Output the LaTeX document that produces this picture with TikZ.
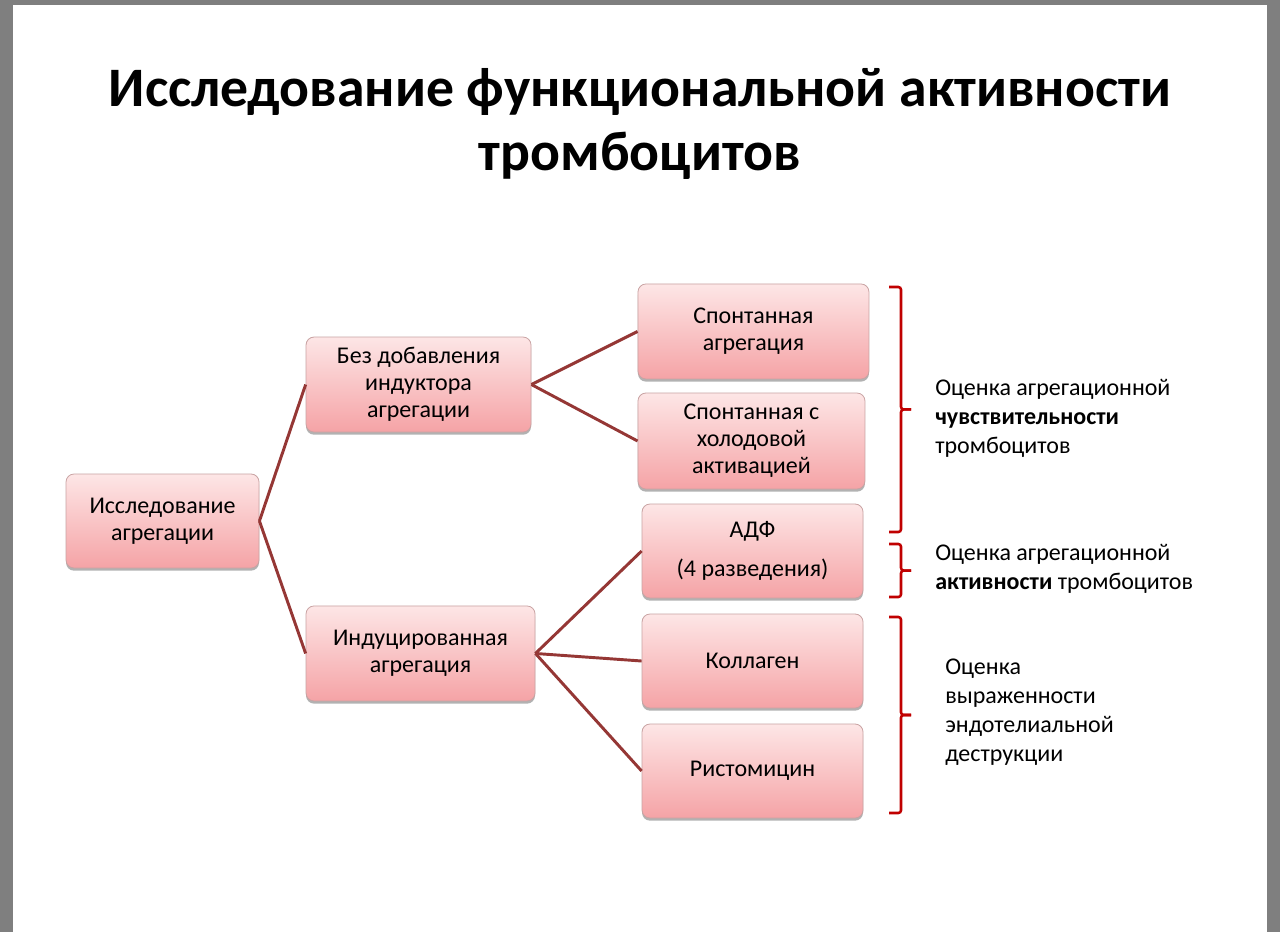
\documentclass[tikz,border=0pt]{standalone}
\usepackage{fontspec}
\setmainfont{Carlito}
\usepackage{xcolor}
\usepackage{tikz}
\usetikzlibrary{shadows}
\definecolor{C7F7F7F}{HTML}{7F7F7F}
\definecolor{CFDE6E6}{HTML}{FDE6E6}
\definecolor{CF5A3A6}{HTML}{F5A3A6}
\definecolor{CC9A3A3}{HTML}{C9A3A3}
\definecolor{C953735}{HTML}{953735}
\definecolor{CC00000}{HTML}{C00000}

\begin{document}
\begin{tikzpicture}[inner sep=0pt,
  box/.style={rounded corners=6pt, top color=CFDE6E6, bottom color=CF5A3A6, draw=CC9A3A3, line width=0.6pt, align=center, font=\fontsize{18}{20.25}\selectfont, drop shadow={shadow xshift=0pt, shadow yshift=-2pt, opacity=0.3, fill=black}},
  link/.style={-, line width=2.2pt, draw=C953735},
  brk/.style={-, line width=1.9pt, draw=CC00000, rounded corners=2pt},
  note/.style={anchor=west, align=left, font=\fontsize{18}{21.75}\selectfont}]
\useasboundingbox (0pt,0pt) rectangle (960pt,-699pt);
\fill [C7F7F7F] (0pt,0pt) rectangle (960pt,-699pt);
\fill [white] (9.75pt,-3.75pt) rectangle (950.25pt,-699pt);

\node (title) [at={(480pt,-92.6pt)}, align=center, font=\bfseries\fontsize{41.8}{48}\selectfont] {Исследование функциональной активности\\тромбоцитов};

\node (n0) [minimum height=70.5pt, minimum width=144.75pt, at={(121.9pt,-390.75pt)}, box] {Исследование\\агрегации};
\node (n1) [minimum height=71.25pt, minimum width=168.75pt, at={(313.9pt,-288.4pt)}, box] {Без добавления\\индуктора\\агрегации};
\node (n2) [minimum height=71.25pt, minimum width=171.75pt, at={(315.4pt,-490.1pt)}, box] {Индуцированная\\агрегация};
\node (n3) [minimum height=71.25pt, minimum width=173.25pt, at={(565.1pt,-248.6pt)}, box] {Спонтанная\\агрегация};
\node (n4) [minimum height=72pt, minimum width=170.25pt, at={(563.6pt,-330.75pt)}, box] {Спонтанная с\\холодовой\\активацией};
\node (n5) [minimum height=70.5pt, minimum width=165.75pt, at={(564.4pt,-413.25pt)}, box] {АДФ\\[9pt](4 разведения)};
\node (n6) [minimum height=70.5pt, minimum width=165.75pt, at={(564.4pt,-495.75pt)}, box] {Коллаген};
\node (n7) [minimum height=70.5pt, minimum width=165.75pt, at={(564.4pt,-578.25pt)}, box] {Ристомицин};

\node (t1) [at={(701.25pt,-313.5pt)}, note] {Оценка агрегационной\\\textbf{чувствительности}\\тромбоцитов};
\node (t2) [at={(701.25pt,-426.4pt)}, note] {Оценка агрегационной\\\textbf{активности} тромбоцитов};
\node (t3) [at={(708.75pt,-534.4pt)}, note] {Оценка\\выраженности\\эндотелиальной\\деструкции};

\path [link] (n0.east)--(n1.west);
\path [link] (n0.east)--(n2.west);
\path [link] (n1.east)--(n3.west);
\path [link] (n1.east)--(n4.west);
\path [link] (n2.east)--(n5.west);
\path [link] (n2.east)--(n6.west);
\path [link] (n2.east)--(n7.west);

\path [brk] (666.75pt,-215.25pt)--(675.75pt,-215.25pt)--(675.75pt,-307.1pt)--(683.25pt,-307.1pt);
\path [brk] (683.25pt,-307.1pt)--(675.75pt,-307.1pt)--(675.75pt,-399pt)--(666.75pt,-399pt);
\path [brk] (666.75pt,-408pt)--(675.75pt,-408pt)--(675.75pt,-427.9pt)--(683.25pt,-427.9pt);
\path [brk] (683.25pt,-427.9pt)--(675.75pt,-427.9pt)--(675.75pt,-447.75pt)--(666.75pt,-447.75pt);
\path [brk] (666.75pt,-462.75pt)--(675.75pt,-462.75pt)--(675.75pt,-536.25pt)--(683.25pt,-536.25pt);
\path [brk] (683.25pt,-536.25pt)--(675.75pt,-536.25pt)--(675.75pt,-609.75pt)--(666.75pt,-609.75pt);
\end{tikzpicture}
\end{document}
